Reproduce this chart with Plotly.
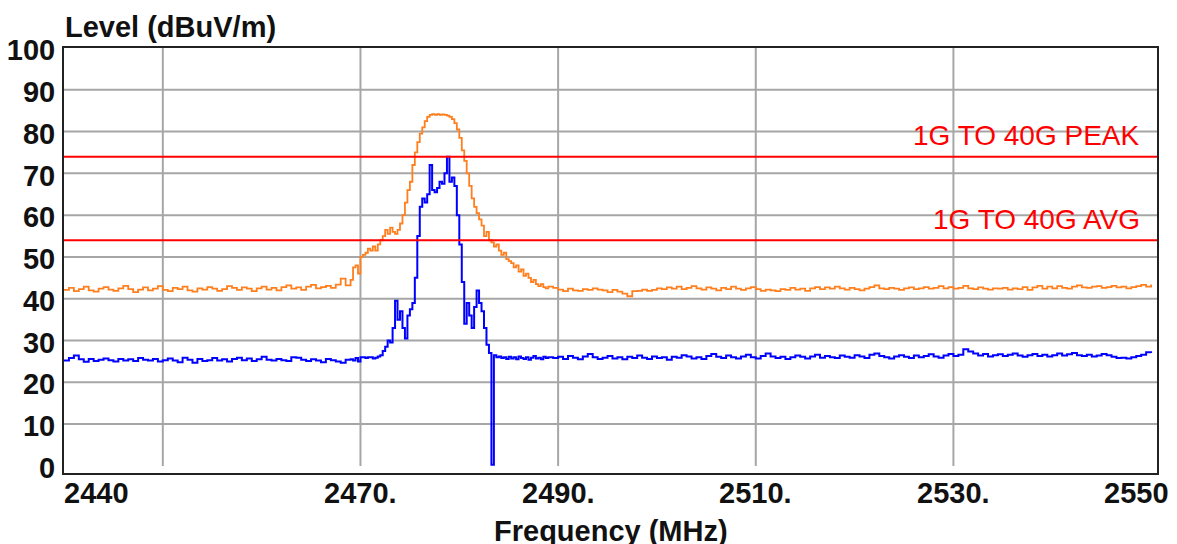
import numpy as np
import plotly.graph_objects as go

# ---------------- data ----------------
# frequency grid segments (MHz)
freq_left = np.arange(2440.0, 2469.0, 0.5)      # 2440 .. 2468.5
freq_peak = np.arange(2469.0, 2489.01, 0.25)    # 2469 .. 2489
freq_right = np.arange(2489.5, 2550.01, 0.5)    # 2489.5 .. 2550

peak_left = [
    42.1, 42.6, 41.8, 42.3, 42.9, 42.0, 41.7, 42.4, 42.8, 42.2,
    41.9, 42.5, 43.1, 42.3, 41.6, 42.2, 42.7, 42.0, 42.4, 43.0,
    42.1, 41.8, 42.6, 42.3, 42.9, 42.0, 41.7, 42.5, 42.2, 42.8,
    42.4, 41.9, 42.3, 43.0, 42.6, 42.1, 42.7, 42.4, 41.8, 42.5,
    42.9, 42.2, 42.6, 42.0, 42.8, 43.2, 42.4, 42.7, 42.1, 42.9,
    43.3, 42.5, 42.8, 43.1, 42.6, 43.4, 44.8, 43.2,
]
peak_mid = [
    44.5, 47.5, 48.0, 46.0,   # 2469
    50.0, 50.5, 51.0, 52.0,   # 2470
    51.5, 52.5, 51.5, 53.0,   # 2471
    54.0, 55.0, 56.5, 55.5,   # 2472
    57.0, 56.0, 55.5, 56.5,   # 2473
    58.0, 60.0, 63.0, 66.0,   # 2474
    68.0, 72.0, 75.0, 77.5,   # 2475
    79.5, 81.0, 82.5, 83.5,   # 2476
    84.0, 84.2, 84.0, 84.2,   # 2477
    84.0, 84.1, 84.0, 83.8,   # 2478
    83.5, 83.0, 82.0, 80.5,   # 2479
    78.5, 75.5, 73.0, 70.0,   # 2480
    67.0, 64.0, 62.0, 60.5,   # 2481
    59.0, 57.5, 55.0, 56.0,   # 2482
    54.0, 53.5, 52.5, 53.0,   # 2483
    51.5, 50.5, 51.0, 49.5,   # 2484
    49.0, 48.5, 47.5, 48.0,   # 2485
    46.5, 47.0, 45.5, 46.0,   # 2486
    45.0, 44.0, 44.5, 43.5,   # 2487
    43.0, 43.5, 42.8, 42.5,   # 2488
    42.9,                     # 2489
]
peak_right = [
    42.6, 42.2, 41.8, 42.4, 42.0, 41.9, 42.3, 42.1, 42.5, 42.2,
    42.0, 41.6, 42.1, 41.7, 41.2, 40.6, 41.8, 41.9, 42.2, 41.9,
    42.1, 42.5, 42.3, 42.7, 42.4, 42.9, 42.3, 42.6, 43.0, 42.5,
    42.2, 42.7, 42.4, 42.0, 42.6, 42.3, 42.9, 42.4, 42.1, 42.5,
    42.8, 42.3, 41.9, 42.2, 42.0, 41.8, 42.3, 42.1, 42.6, 42.2,
    42.4, 41.9, 42.5, 42.8, 42.3, 42.7, 42.4, 42.9, 42.5, 42.2,
    42.6, 42.3, 42.0, 42.4, 42.8, 43.2, 42.5, 42.3, 42.6, 42.4,
    42.1, 42.5, 42.7, 42.3, 42.5, 42.8, 42.4, 42.6, 43.0, 42.5,
    42.8, 42.4, 42.6, 43.1, 42.5, 42.3, 42.7, 42.4, 42.2, 42.5,
    42.4, 42.6, 42.2, 42.5, 42.3, 42.8, 42.1, 42.7, 43.1, 42.4,
    42.9, 42.5, 43.0, 42.6, 42.4, 42.9, 43.2, 42.7, 42.6, 42.9,
    43.0, 42.6, 42.8, 43.1, 42.7, 42.9, 42.5, 42.8, 43.0, 43.3,
    42.9, 43.4,
]

avg_left = [
    25.2, 25.8, 26.4, 25.5, 24.9, 25.6, 25.1, 25.4, 25.7, 25.3,
    25.0, 25.6, 25.2, 25.5, 25.1, 25.8, 25.4, 25.2, 25.6, 25.0,
    25.3, 25.7, 25.2, 24.8, 25.9, 25.4, 24.7, 25.6, 25.1, 25.3,
    25.8, 25.2, 25.5, 25.0, 25.6, 25.9, 25.3, 25.7, 25.1, 25.5,
    26.1, 25.4, 25.2, 25.6, 25.3, 25.1, 26.0, 25.9, 25.4, 25.1,
    25.5, 25.2, 24.8, 25.6, 25.3, 25.0, 24.7, 25.4,
]
avg_mid = [
    25.5, 25.2, 25.8, 25.0,   # 2469
    26.0, 26.0, 25.8, 26.0,   # 2470
    26.0, 25.7, 25.9, 26.2,   # 2471
    26.5, 27.5, 28.5, 30.0,   # 2472
    29.5, 33.0, 39.5, 35.0,   # 2473
    37.0, 33.0, 30.5, 36.0,   # 2474
    37.5, 39.0, 45.0, 55.0,   # 2475
    62.0, 64.0, 63.0, 65.0,   # 2476
    72.0, 66.0, 65.5, 66.5,   # 2477
    68.0, 67.5, 70.0, 74.0,   # 2478
    68.0, 69.0, 67.0, 60.0,   # 2479
    53.0, 44.0, 34.0, 39.0,   # 2480
    36.0, 33.0, 38.0, 42.0,   # 2481
    39.0, 37.0, 33.0, 29.0,   # 2482
    27.0, 0.3, 26.5, 26.0,    # 2483
    26.2, 25.8, 26.0, 25.6,   # 2484
    26.1, 25.7, 26.0, 25.5,   # 2485
    26.2, 25.8, 25.6, 26.0,   # 2486
    25.4, 25.9, 26.3, 25.7,   # 2487
    25.9, 25.5, 26.1, 25.8,   # 2488
    26.0,                     # 2489
]
avg_right = [
    25.8, 26.1, 25.6, 26.3, 25.9, 25.5, 26.2, 26.8, 26.0, 25.6,
    25.9, 26.3, 25.7, 26.0, 25.5, 26.1, 25.8, 26.4, 25.9, 25.6,
    26.2, 25.8, 26.0, 25.4, 26.1, 25.9, 26.5, 26.2, 25.7, 26.0,
    25.6, 26.3, 26.8, 26.1, 25.8, 26.4, 26.0, 25.7, 26.2, 26.6,
    26.0, 25.7, 26.3, 26.9, 26.2, 25.8, 26.1, 25.6, 26.0, 26.4,
    26.1, 25.7, 26.2, 26.6, 25.9, 26.3, 26.0, 25.8, 26.4, 26.1,
    25.9, 26.5, 26.2, 25.8, 26.6, 26.9, 26.3, 26.0, 25.7, 26.2,
    26.5, 26.1, 25.8, 26.4, 26.0, 26.3, 26.7, 26.2, 25.9, 26.4,
    26.8, 26.3, 26.6, 27.9, 27.4, 26.9, 26.4, 26.8, 26.2, 26.5,
    26.7, 26.3, 26.6, 26.9, 26.4, 26.1, 26.5, 26.8, 26.3, 26.6,
    26.2, 26.5, 26.9, 26.4, 26.7, 27.0, 26.5, 26.3, 26.6, 26.2,
    26.4, 26.8, 26.5, 26.1, 25.8, 25.9, 25.7, 26.0, 26.3, 26.6,
    27.2, 27.0,
]

limit_values = [74, 54]
limit_labels = ["1G TO 40G PEAK", "1G TO 40G AVG"]

y_ticks = list(range(0, 101, 10))
x_grid = [2450, 2470, 2490, 2510, 2530]
x_tickvals = [2440, 2470, 2490, 2510, 2530, 2550]
x_ticktext = ["2440", "2470.", "2490.", "2510.", "2530.", "2550"]

assert len(freq_left) == len(peak_left) == len(avg_left)
assert len(freq_peak) == len(peak_mid) == len(avg_mid)
assert len(freq_right) == len(peak_right) == len(avg_right)

freq = np.concatenate([freq_left, freq_peak, freq_right])
peak = peak_left + peak_mid + peak_right
avg = avg_left + avg_mid + avg_right

# ---------------- figure ----------------
FONT = "Liberation Sans"
TXT = "#111111"
GRID = "#a6a6a6"

fig = go.Figure()
fig.add_trace(go.Scatter(x=freq, y=peak, mode="lines", line_shape="hv",
                         line=dict(color="#ff7f1e", width=1.8), showlegend=False,
                         hoverinfo="skip"))
fig.add_trace(go.Scatter(x=freq, y=avg, mode="lines", line_shape="hv",
                         line=dict(color="#0000ff", width=2), showlegend=False,
                         hoverinfo="skip"))

shapes = []
for gx in x_grid:
    shapes.append(dict(type="line", xref="x", yref="y", x0=gx, x1=gx, y0=0, y1=100,
                       line=dict(color=GRID, width=2), layer="below"))
for gy in y_ticks[1:-1]:
    shapes.append(dict(type="line", xref="paper", yref="y", x0=0, x1=1, y0=gy, y1=gy,
                       line=dict(color=GRID, width=2), layer="below"))
for lv in limit_values:
    shapes.append(dict(type="line", xref="paper", yref="y", x0=0, x1=1, y0=lv, y1=lv,
                       line=dict(color="#ff0000", width=2), layer="above"))

annotations = []
for lv, lt in zip(limit_values, limit_labels):
    annotations.append(dict(text=lt, xref="paper", yref="y", x=0.986, y=lv,
                            xanchor="right", yanchor="middle", yshift=21, showarrow=False,
                            font=dict(family=FONT, size=28, color="#ff0000")))
annotations.append(dict(text="<b>Level (dBuV/m)</b>", xref="paper", yref="paper",
                        x=0, y=1, xanchor="left", yanchor="middle", xshift=-1, yshift=21,
                        showarrow=False, font=dict(family=FONT, size=29, color=TXT)))
annotations.append(dict(text="<b>Frequency (MHz)</b>", xref="paper", yref="paper",
                        x=0.5, y=0, xanchor="center", yanchor="top", yshift=-40,
                        showarrow=False, font=dict(family=FONT, size=29, color=TXT)))
for i, (xv, xt) in enumerate(zip(x_tickvals, x_ticktext)):
    if i == 0:
        anchor, shift = "left", -2
    elif i == len(x_tickvals) - 1:
        anchor, shift = "right", 20
    else:
        anchor, shift = "center", 0
    annotations.append(dict(text="<b>%s</b>" % xt, xref="x", yref="paper", x=xv, y=0,
                            xanchor=anchor, yanchor="top", xshift=shift, yshift=-2,
                            showarrow=False, font=dict(family=FONT, size=29, color=TXT)))

fig.update_layout(
    width=1177, height=544,
    margin=dict(l=64, r=20, t=48, b=71, pad=0, autoexpand=False),
    paper_bgcolor="white", plot_bgcolor="white",
    shapes=shapes, annotations=annotations,
    font=dict(family=FONT, color=TXT),
)
fig.update_xaxes(range=[2440, 2550.6], showgrid=False, zeroline=False, automargin=False,
                 showline=True, linecolor="#222222", linewidth=2, mirror=True,
                 showticklabels=False, ticks="")
fig.update_yaxes(range=[-1.7, 100], showgrid=False, zeroline=False, automargin=False,
                 showline=True, linecolor="#222222", linewidth=2, mirror=True,
                 tickvals=y_ticks, ticktext=["<b>%d</b>" % v for v in y_ticks],
                 ticks="", ticklabelstandoff=1, ticklabelshift=2,
                 tickfont=dict(family=FONT, size=29, color=TXT))

fig.write_html("out.html", config={"displayModeBar": False})
